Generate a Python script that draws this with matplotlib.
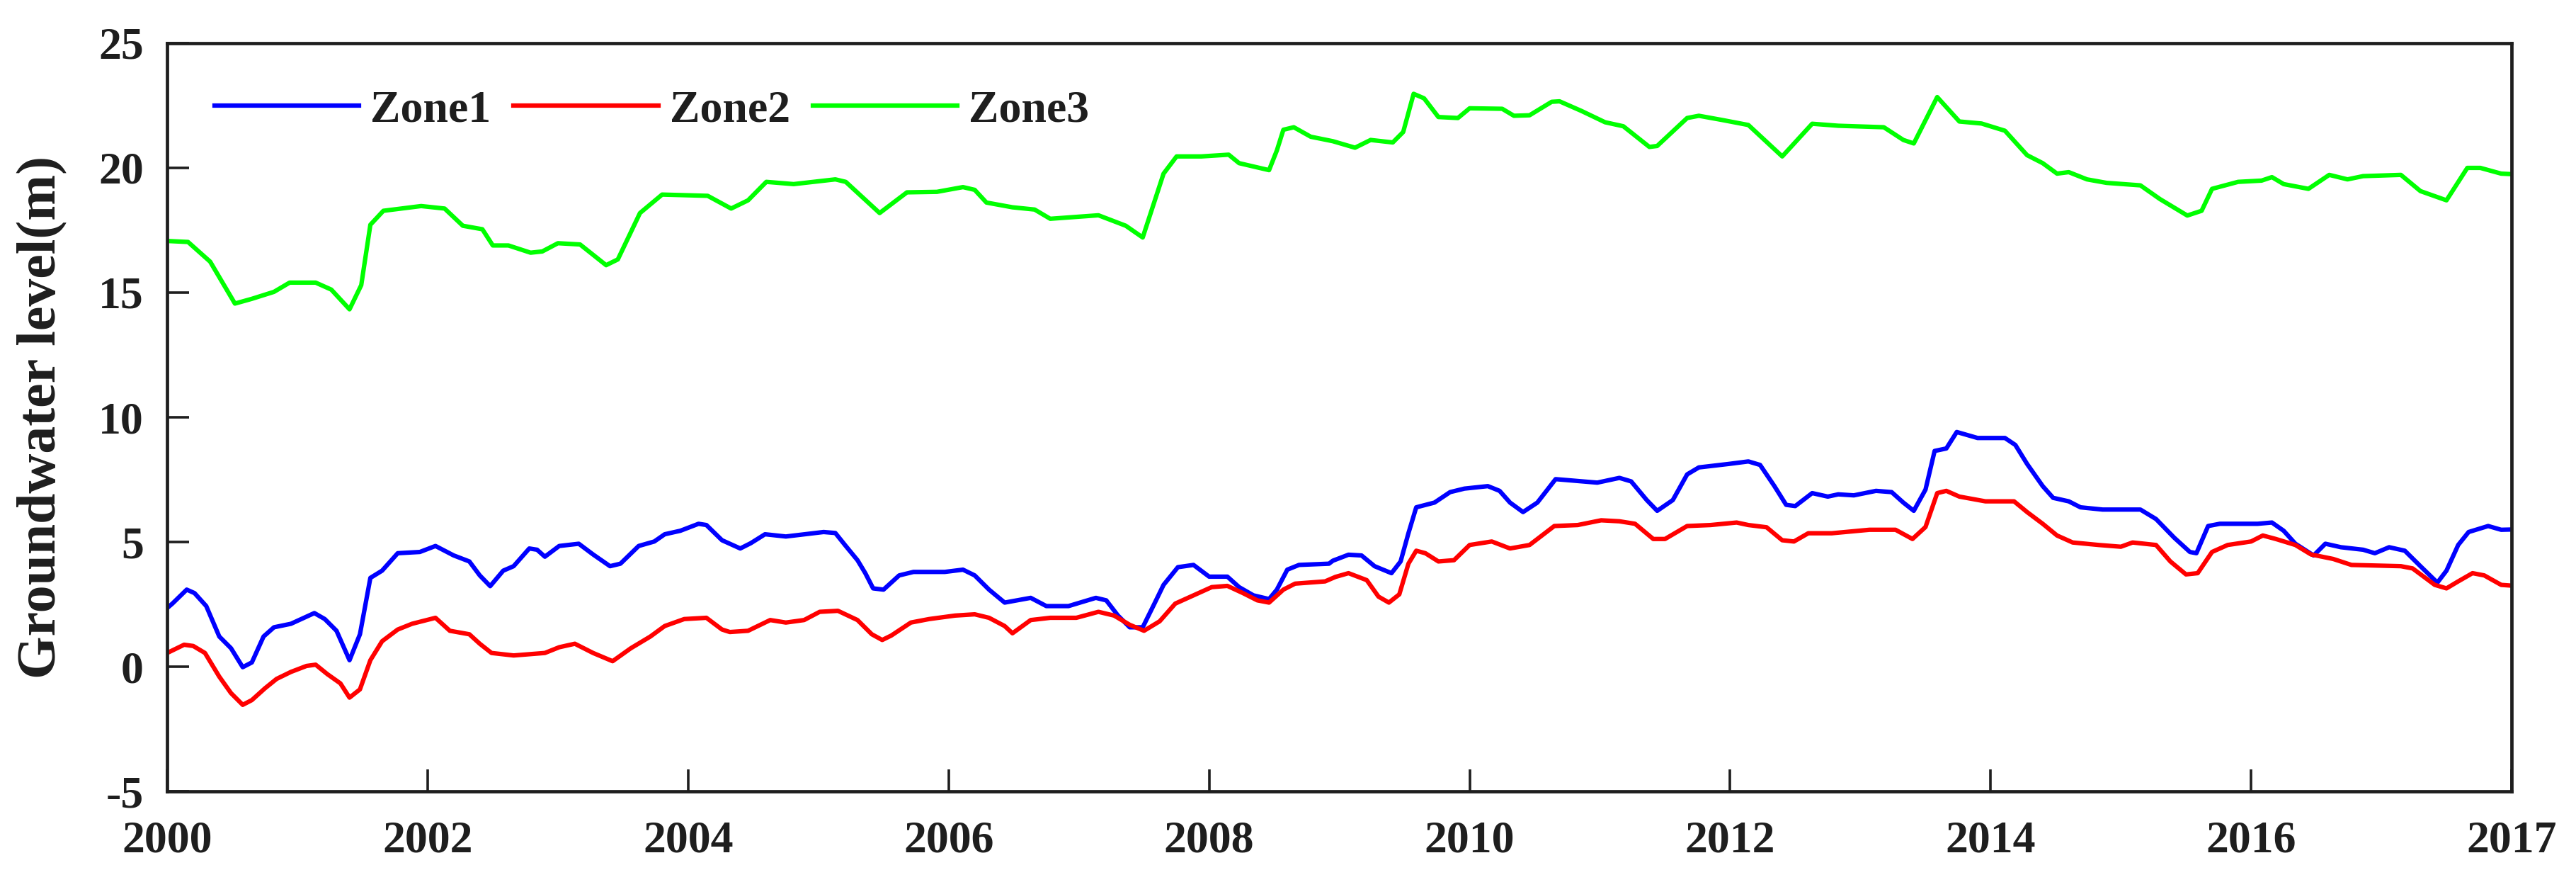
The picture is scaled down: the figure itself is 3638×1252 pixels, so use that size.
import matplotlib
matplotlib.use('Agg')
import matplotlib.pyplot as plt
import numpy as np

# ---------------- data (years since 2000, groundwater level in m) ----------------
zone1_t = [0.00, 0.04, 0.15, 0.21, 0.30, 0.40, 0.49, 0.58, 0.65, 0.74, 0.82, 0.95, 1.13, 1.21, 1.30,
           1.40, 1.48, 1.56, 1.65, 1.77, 1.94, 2.06, 2.20, 2.32, 2.40, 2.48, 2.58, 2.66, 2.78, 2.84,
           2.90, 3.01, 3.16, 3.27, 3.40, 3.48, 3.62, 3.74, 3.82, 3.94, 4.08, 4.14, 4.26, 4.40, 4.48,
           4.59, 4.75, 5.04, 5.13, 5.21, 5.30, 5.36, 5.42, 5.50, 5.62, 5.73, 5.97, 6.11, 6.20, 6.31,
           6.43, 6.63, 6.75, 6.92, 7.13, 7.21, 7.30, 7.39, 7.49, 7.58, 7.65, 7.76, 7.88, 8.00, 8.14,
           8.23, 8.34, 8.46, 8.52, 8.60, 8.69, 8.92, 8.95, 9.07, 9.17, 9.27, 9.40, 9.47, 9.53, 9.59,
           9.73, 9.85, 9.96, 10.14, 10.23, 10.31, 10.41, 10.52, 10.66, 10.98, 11.15, 11.24, 11.36,
           11.44, 11.56, 11.67, 11.76, 11.99, 12.14, 12.23, 12.34, 12.43, 12.50, 12.63, 12.75, 12.83,
           12.95, 13.12, 13.24, 13.33, 13.41, 13.50, 13.57, 13.66, 13.74, 13.90, 14.11, 14.19, 14.28,
           14.40, 14.48, 14.60, 14.69, 14.86, 15.15, 15.27, 15.41, 15.53, 15.58, 15.67, 15.76, 16.05,
           16.16, 16.25, 16.34, 16.48, 16.57, 16.69, 16.86, 16.95, 17.06, 17.18, 17.30, 17.43, 17.50,
           17.59, 17.67, 17.82, 17.92, 18.00]
zone1_v = [2.35, 2.53, 3.09, 2.95, 2.43, 1.21, 0.74, -0.02, 0.17, 1.21, 1.58, 1.72, 2.15, 1.91, 1.44,
           0.26, 1.30, 3.56, 3.85, 4.55, 4.60, 4.84, 4.46, 4.22, 3.66, 3.23, 3.85, 4.03, 4.74, 4.69,
           4.41, 4.84, 4.93, 4.50, 4.03, 4.13, 4.84, 5.02, 5.31, 5.45, 5.73, 5.68, 5.07, 4.74, 4.95,
           5.31, 5.22, 5.40, 5.36, 4.84, 4.27, 3.75, 3.14, 3.09, 3.66, 3.80, 3.80, 3.89, 3.66, 3.09,
           2.57, 2.76, 2.43, 2.43, 2.76, 2.66, 2.05, 1.58, 1.58, 2.53, 3.28, 3.99, 4.08, 3.61, 3.61,
           3.19, 2.86, 2.71, 3.09, 3.89, 4.08, 4.13, 4.25, 4.49, 4.46, 4.03, 3.75, 4.22, 5.35, 6.39,
           6.58, 7.00, 7.14, 7.24, 7.05, 6.58, 6.20, 6.58, 7.52, 7.38, 7.57, 7.43, 6.68,
           6.25, 6.68, 7.71, 7.99, 8.13, 8.23, 8.09, 7.24, 6.49, 6.44, 6.96, 6.82, 6.91,
           6.87, 7.05, 7.00, 6.58, 6.25, 7.10, 8.65, 8.75, 9.41, 9.17, 9.17, 8.89, 8.13,
           7.24, 6.77, 6.63, 6.39, 6.30, 6.30, 5.92, 5.17, 4.60, 4.55, 5.64, 5.73, 5.73,
           5.78, 5.45, 4.93, 4.46, 4.93, 4.79, 4.69, 4.55, 4.79, 4.65, 4.03, 3.37, 3.85,
           4.88, 5.40, 5.64, 5.49, 5.50]

zone2_t = [0.00, 0.13, 0.20, 0.29, 0.40, 0.49, 0.58, 0.65, 0.75, 0.84, 0.95, 1.07, 1.14, 1.23, 1.33,
           1.40, 1.48, 1.56, 1.65, 1.77, 1.88, 2.06, 2.17, 2.32, 2.40, 2.49, 2.66, 2.90, 3.01, 3.13,
           3.27, 3.42, 3.56, 3.71, 3.82, 3.97, 4.14, 4.26, 4.32, 4.46, 4.63, 4.75, 4.89, 5.01, 5.15,
           5.30, 5.41, 5.49, 5.56, 5.71, 5.85, 6.05, 6.20, 6.31, 6.43, 6.49, 6.63, 6.78, 6.98, 7.15,
           7.27, 7.39, 7.50, 7.62, 7.74, 7.88, 8.02, 8.14, 8.26, 8.37, 8.46, 8.57, 8.66, 8.89, 8.97,
           9.07, 9.21, 9.30, 9.38, 9.46, 9.53, 9.59, 9.66, 9.76, 9.88, 10.00, 10.17, 10.31, 10.46,
           10.65, 10.83, 11.01, 11.15, 11.27, 11.41, 11.50, 11.67, 11.85, 12.05, 12.14, 12.28, 12.40,
           12.49, 12.60, 12.78, 13.07, 13.27, 13.40, 13.50, 13.59, 13.66, 13.76, 13.96, 14.18, 14.28,
           14.40, 14.51, 14.63, 14.83, 15.00, 15.09, 15.27, 15.38, 15.50, 15.59, 15.70, 15.82, 16.00,
           16.09, 16.19, 16.34, 16.46, 16.63, 16.77, 17.15, 17.24, 17.41, 17.50, 17.59, 17.70, 17.79,
           17.92, 18.00]
zone2_v = [0.55, 0.88, 0.83, 0.55, -0.40, -1.06, -1.53, -1.34, -0.87, -0.49, -0.21, 0.03, 0.08, -0.30, -0.67,
           -1.24, -0.91, 0.26, 1.02, 1.49, 1.72, 1.96, 1.44, 1.30, 0.92, 0.55, 0.45, 0.55, 0.78, 0.92,
           0.55, 0.22, 0.74, 1.21, 1.63, 1.91, 1.96, 1.49, 1.39, 1.44, 1.87, 1.77, 1.87, 2.20, 2.24,
           1.87, 1.30, 1.07, 1.25, 1.77, 1.91, 2.05, 2.10, 1.96, 1.63, 1.34, 1.87, 1.96, 1.96, 2.20,
           2.05, 1.68, 1.44, 1.82, 2.53, 2.86, 3.19, 3.24, 2.95, 2.66, 2.57, 3.09, 3.33, 3.42, 3.60,
           3.75, 3.47, 2.81, 2.57, 2.90, 4.13, 4.65, 4.55, 4.22, 4.27, 4.88, 5.02, 4.74, 4.88,
           5.64, 5.68, 5.87, 5.83, 5.73, 5.12, 5.12, 5.64, 5.68, 5.78, 5.68, 5.59, 5.07,
           5.02, 5.35, 5.35, 5.49, 5.49, 5.12, 5.60, 6.96, 7.05, 6.82, 6.63, 6.63, 6.20,
           5.73, 5.26, 4.98, 4.88, 4.81, 4.98, 4.88, 4.22, 3.70, 3.75, 4.60, 4.88, 5.02,
           5.26, 5.12, 4.88, 4.50, 4.32, 4.08, 4.03, 3.94, 3.28, 3.14, 3.42, 3.75, 3.66,
           3.28, 3.25]

zone3_t = [0.00, 0.16, 0.33, 0.52, 0.65, 0.82, 0.94, 1.14, 1.26, 1.40, 1.49, 1.56, 1.66, 1.95, 2.13,
           2.27, 2.42, 2.50, 2.62, 2.79, 2.88, 3.00, 3.17, 3.37, 3.46, 3.63, 3.80, 4.15, 4.33, 4.46,
           4.60, 4.81, 5.13, 5.21, 5.47, 5.68, 5.91, 6.11, 6.20, 6.29, 6.49, 6.66, 6.78, 7.15, 7.36,
           7.49, 7.65, 7.75, 7.94, 8.15, 8.23, 8.46, 8.52, 8.57, 8.65, 8.78, 8.95, 9.12, 9.24, 9.41,
           9.49, 9.57, 9.65, 9.76, 9.91, 10.00, 10.25, 10.34, 10.46, 10.63, 10.69, 10.86, 11.04,
           11.18, 11.38, 11.44, 11.67, 11.76, 11.94, 12.14, 12.40, 12.63, 12.83, 13.18, 13.33, 13.41,
           13.59, 13.76, 13.93, 14.11, 14.28, 14.40, 14.51, 14.60, 14.74, 14.89, 15.15, 15.30, 15.51,
           15.62, 15.70, 15.90, 16.08, 16.16, 16.25, 16.44, 16.60, 16.74, 16.86, 17.15, 17.30, 17.50,
           17.66, 17.76, 17.92, 18.00]
zone3_v = [17.07, 17.03, 16.24, 14.56, 14.75, 15.03, 15.40, 15.40, 15.12, 14.33, 15.30, 17.72, 18.28, 18.47, 18.37,
           17.68, 17.54, 16.89, 16.89, 16.60, 16.65, 16.98, 16.93, 16.10, 16.33, 18.19, 18.93, 18.88, 18.37, 18.70,
           19.44, 19.35, 19.54, 19.44, 18.19, 19.02, 19.04, 19.23, 19.12, 18.61, 18.42, 18.33, 17.96, 18.10, 17.68,
           17.21, 19.77, 20.46, 20.46, 20.53, 20.19, 19.91, 20.70, 21.53, 21.63, 21.25, 21.07, 20.81, 21.12, 21.02,
           21.44, 22.97, 22.79, 22.04, 22.00, 22.39, 22.37, 22.09, 22.11, 22.65, 22.67, 22.28, 21.83,
           21.67, 20.84, 20.88, 22.00, 22.09, 21.92, 21.72, 20.46, 21.77, 21.69, 21.63, 21.12, 20.98,
           22.84, 21.86, 21.78, 21.49, 20.51, 20.19, 19.77, 19.83, 19.54, 19.40, 19.30, 18.75, 18.09,
           18.28, 19.16, 19.44, 19.49, 19.63, 19.35, 19.16, 19.72, 19.54, 19.67, 19.72, 19.07, 18.70,
           20.00, 20.00, 19.77, 19.75]

series_labels = ['Zone1', 'Zone2', 'Zone3']
xtick_pos = [2000, 2002, 2004, 2006, 2008, 2010, 2012, 2014, 2016, 2018]
xtick_labels = ['2000', '2002', '2004', '2006', '2008', '2010', '2012', '2014', '2016', '2017']
ytick_pos = [-5, 0, 5, 10, 15, 20, 25]
ytick_labels = ['-5', '0', '5', '10', '15', '20', '25']

# ---------------- style ----------------
plt.rcParams['font.family'] = ['Liberation Serif', 'DejaVu Serif']
plt.rcParams['font.weight'] = 'bold'
plt.rcParams['axes.unicode_minus'] = False

dark = '#1e1e1e'
fig = plt.figure(figsize=(36.38, 12.52), dpi=100)
ax = fig.add_axes([0.0649, 0.1078, 0.9101, 0.8435])

ax.plot(2000 + np.array(zone1_t), zone1_v, color='#0000FF', lw=4.5, label=series_labels[0])
ax.plot(2000 + np.array(zone2_t), zone2_v, color='#FF0000', lw=4.5, label=series_labels[1])
ax.plot(2000 + np.array(zone3_t), zone3_v, color='#00FF00', lw=4.5, label=series_labels[2])

ax.set_xlim(2000, 2018)
ax.set_ylim(-5, 25)
ax.set_xticks(xtick_pos)
ax.set_xticklabels(xtick_labels)
ax.set_yticks(ytick_pos)
ax.set_yticklabels(ytick_labels)

ax.tick_params(direction='in', length=22, width=2.6, labelsize=46, color=dark,
               labelcolor=dark, top=False, right=False)
ax.tick_params(axis='x', pad=30)
ax.tick_params(axis='y', pad=24)
for lab in ax.get_xticklabels() + ax.get_yticklabels():
    lab.set_fontweight('bold')

for sp in ax.spines.values():
    sp.set_linewidth(3.4)
    sp.set_color(dark)

ax.set_ylabel('Groundwater level(m)', fontsize=56, fontweight='bold', color=dark)
ax.yaxis.set_label_coords(-0.0426, 0.5)

leg = ax.legend(loc='center left', bbox_to_anchor=(0.0202, 0.91), ncol=3, frameon=False,
                fontsize=46, handlelength=3.2, handletextpad=0.25, columnspacing=0.5,
                borderpad=0, borderaxespad=0)
for txt in leg.get_texts():
    txt.set_fontweight('bold')
    txt.set_color(dark)

fig.savefig('out.png', dpi=100)
